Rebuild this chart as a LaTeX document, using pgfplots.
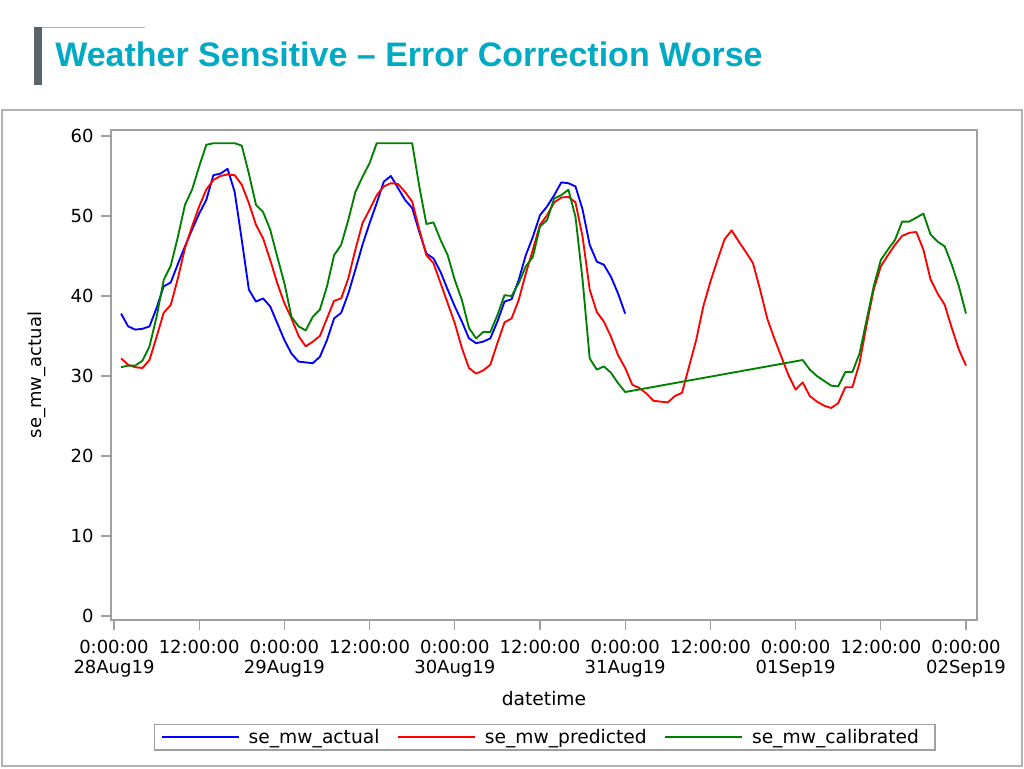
\documentclass[border=0pt]{standalone}
\usepackage{fontspec}
\usepackage{pgfplots}
\pgfplotsset{compat=1.18}
\setmainfont{DejaVu Sans}
\newfontfamily\titlefont{Liberation Sans}
\definecolor{titleteal}{RGB}{0,170,196}
\definecolor{barGray}{RGB}{90,98,106}
\definecolor{frameGray}{RGB}{160,160,160}
\definecolor{sasBlue}{RGB}{0,0,255}
\definecolor{sasRed}{RGB}{255,0,0}
\definecolor{sasGreen}{RGB}{0,128,0}

\begin{document}
\begin{tikzpicture}
% page size 1024x768 px, 1px = 0.75pt
\useasboundingbox (0pt,0pt) rectangle (768pt,-576pt);
\begin{scope}[x=0.75pt,y=-0.75pt]
  \fill[white] (0,0) rectangle (1024,768);
  \draw[gray!60, line width=0.6pt] (35,27) -- (145,27);
  \fill[barGray] (34,27) rectangle (42,85);
  \node[anchor=base west, inner sep=0pt, text=titleteal]
    at (55,66) {\titlefont\bfseries\fontsize{25.5}{28}\selectfont Weather Sensitive – Error Correction Worse};
  \draw[gray!60, line width=0.9pt] (2,110) rectangle (1022,766);
\end{scope}

\begin{axis}[
  at={(83.25pt,-97.5pt)}, anchor=north west,
  scale only axis,
  width=649.5pt, height=367.5pt,
  xmin=-0.42, xmax=121.55,
  ymin=-0.5, ymax=60.75,
  axis line style={draw=frameGray, line width=1.3pt},
  tick style={draw=frameGray, line width=1pt},
  tick align=outside,
  major tick length=7.5pt,
  xtick pos=bottom, ytick pos=left,
  ytick={0,10,...,60},
  xtick={0,12,...,120},
  xticklabels={{0:00:00\\28Aug19},12:00:00,{0:00:00\\29Aug19},12:00:00,{0:00:00\\30Aug19},12:00:00,{0:00:00\\31Aug19},12:00:00,{0:00:00\\01Sep19},12:00:00,{0:00:00\\02Sep19}},
  xticklabel style={align=center, font=\fontsize{13.5}{15}\selectfont, yshift=-4pt},
  yticklabel style={font=\fontsize{13.5}{15}\selectfont, xshift=-2pt},
  /pgf/number format/assume math mode=true,
  xlabel={datetime},
  ylabel={se\_mw\_actual},
  xlabel style={font=\fontsize{14}{16}\selectfont},
  ylabel style={font=\fontsize{13.5}{16}\selectfont, at={(ticklabel cs:0.5)}},
  ylabel shift=12pt,
  xlabel shift=4pt,
  no markers,
  every axis plot/.append style={line width=1.4pt, line join=round},
  legend columns=3,
  legend style={
    at={(0.501,-0.239)}, anchor=center,
    draw=frameGray, line width=1pt,
    font=\fontsize{14}{16}\selectfont,
    inner xsep=5pt, inner ysep=1.5pt,
    nodes={inner xsep=7pt},
    /tikz/every even column/.append style={column sep=6.5pt},
  },
  legend image code/.code={\draw[#1, line width=1pt] (0pt,0pt) -- (57.5pt,0pt);},
]

\addplot[sasBlue] coordinates {
(1,37.8) (2,36.2) (3,35.8) (4,35.9) (5,36.2) (6,38.5) (7,41.2) (8,41.7)
(9,44.0) (10,46.2) (11,48.3) (12,50.3) (13,52.0) (14,55.1) (15,55.3) (16,55.9)
(17,53.0) (18,47.0) (19,40.8) (20,39.3) (21,39.7) (22,38.7) (23,36.6) (24,34.5)
(25,32.8) (26,31.8) (27,31.7) (28,31.6) (29,32.4) (30,34.5) (31,37.2) (32,37.9)
(33,40.3) (34,43.3) (35,46.4) (36,49.1) (37,51.6) (38,54.3) (39,55.0) (40,53.5)
(41,52.0) (42,51.0) (43,48.0) (44,45.3) (45,44.7) (46,43.0) (47,40.8) (48,38.7)
(49,36.8) (50,34.7) (51,34.1) (52,34.3) (53,34.7) (54,36.8) (55,39.3) (56,39.6)
(57,42.0) (58,45.1) (59,47.4) (60,50.1) (61,51.2) (62,52.6) (63,54.2) (64,54.1)
(65,53.7) (66,50.8) (67,46.4) (68,44.3) (69,43.9) (70,42.4) (71,40.3) (72,37.8)
};
\addlegendentry{se\_mw\_actual}

\addplot[sasRed] coordinates {
(1,32.2) (2,31.4) (3,31.1) (4,31.0) (5,32.0) (6,34.9) (7,37.9) (8,38.9)
(9,42.2) (10,46.0) (11,48.7) (12,51.2) (13,53.3) (14,54.5) (15,55.0) (16,55.2)
(17,55.1) (18,53.9) (19,51.6) (20,48.9) (21,47.2) (22,44.5) (23,41.6) (24,39.1)
(25,37.2) (26,35.0) (27,33.7) (28,34.3) (29,35.0) (30,37.2) (31,39.4) (32,39.7)
(33,42.2) (34,45.8) (35,49.1) (36,50.8) (37,52.6) (38,53.7) (39,54.1) (40,54.0)
(41,53.0) (42,51.8) (43,48.3) (44,45.1) (45,44.1) (46,41.6) (47,39.1) (48,36.6)
(49,33.5) (50,31.0) (51,30.3) (52,30.7) (53,31.4) (54,34.1) (55,36.7) (56,37.2)
(57,39.5) (58,42.8) (59,45.8) (60,48.9) (61,50.1) (62,51.7) (63,52.3) (64,52.4)
(65,51.7) (66,47.4) (67,40.8) (68,38.0) (69,36.8) (70,34.9) (71,32.6) (72,31.0)
(73,28.9) (74,28.5) (75,27.8) (76,26.9) (77,26.8) (78,26.7) (79,27.5) (80,27.9)
(81,31.2) (82,34.5) (83,38.7) (84,41.8) (85,44.5) (86,47.1) (87,48.2) (88,46.8)
(89,45.5) (90,44.1) (91,40.8) (92,37.2) (93,34.7) (94,32.4) (95,30.1) (96,28.3)
(97,29.2) (98,27.5) (99,26.8) (100,26.3) (101,26.0) (102,26.6) (103,28.6) (104,28.6)
(105,31.6) (106,36.4) (107,40.8) (108,43.7) (109,45.1) (110,46.4) (111,47.5) (112,47.9)
(113,48.0) (114,45.8) (115,42.1) (116,40.3) (117,38.9) (118,36.0) (119,33.3) (120,31.3)
};
\addlegendentry{se\_mw\_predicted}

\addplot[sasGreen] coordinates {
(1,31.1) (2,31.3) (3,31.3) (4,31.9) (5,33.7) (6,37.4) (7,42.0) (8,43.8)
(9,47.4) (10,51.4) (11,53.3) (12,56.2) (13,58.9) (14,59.1) (15,59.1) (16,59.1)
(17,59.1) (18,58.8) (19,55.3) (20,51.4) (21,50.5) (22,48.3) (23,44.9) (24,41.6)
(25,37.4) (26,36.2) (27,35.7) (28,37.4) (29,38.3) (30,41.2) (31,45.1) (32,46.4)
(33,49.5) (34,53.0) (35,54.9) (36,56.6) (37,59.1) (38,59.1) (39,59.1) (40,59.1)
(41,59.1) (42,59.1) (43,53.7) (44,49.0) (45,49.2) (46,47.0) (47,45.1) (48,42.0)
(49,39.5) (50,36.0) (51,34.7) (52,35.5) (53,35.5) (54,37.6) (55,40.1) (56,40.0)
(57,41.6) (58,43.7) (59,44.9) (60,48.7) (61,49.5) (62,52.2) (63,52.6) (64,53.3)
(65,49.9) (66,42.0) (67,32.2) (68,30.8) (69,31.2) (70,30.4) (71,29.1) (72,28.0)
(97,32.0) (98,30.8) (99,30.0) (100,29.4) (101,28.8) (102,28.7) (103,30.5) (104,30.5)
(105,32.8) (106,37.0) (107,41.2) (108,44.5) (109,45.8) (110,47.0) (111,49.3) (112,49.3)
(113,49.8) (114,50.3) (115,47.7) (116,46.8) (117,46.2) (118,43.9) (119,41.2) (120,37.8)
};
\addlegendentry{se\_mw\_calibrated}
\end{axis}
\end{tikzpicture}
\end{document}
